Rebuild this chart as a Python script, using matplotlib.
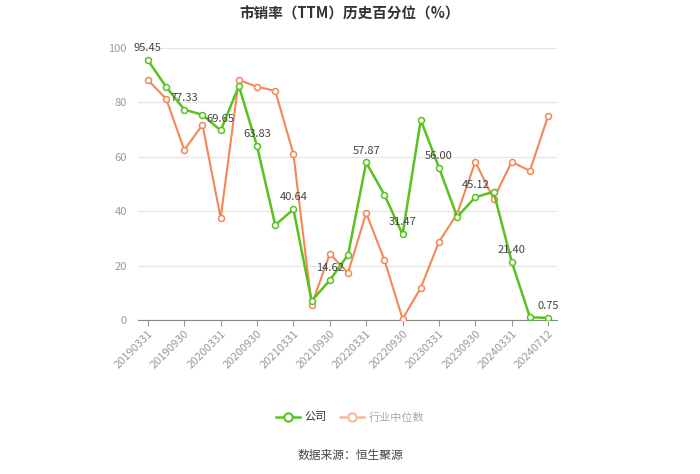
import matplotlib.pyplot as plt
from matplotlib.lines import Line2D

plt.rcParams['font.family'] = ['Noto Sans CJK SC', 'DejaVu Sans']

# Data
dates = ["20190331", "20190630", "20190930", "20191231", "20200331", "20200630",
         "20200930", "20201231", "20210331", "20210630", "20210930", "20211231",
         "20220331", "20220630", "20220930", "20221231", "20230331", "20230630",
         "20230930", "20231231", "20240331", "20240630", "20240712"]
company = [95.45, 85.7, 77.33, 75.4, 69.65, 86.0, 63.83, 34.9, 40.64, 7.0, 14.62, 23.9,
           57.87, 46.0, 31.47, 73.5, 56.00, 37.9, 45.12, 47.1, 21.40, 1.0, 0.75]
industry = [88.2, 81.3, 62.5, 71.7, 37.5, 88.2, 85.7, 84.2, 61.0, 5.5, 24.3, 17.3,
            39.3, 22.1, 0.4, 11.8, 28.7, 39.0, 58.1, 44.5, 58.1, 54.8, 75.0]
tick_labels = ["20190331", "20190930", "20200331", "20200930", "20210331", "20210930",
               "20220331", "20220930", "20230331", "20230930", "20240331", "20240712"]
labeled_idx = list(range(0, len(dates), 2))

GREEN = "#58c21f"
ORANGE = "#f5865a"

fig = plt.figure(figsize=(7, 4.74), dpi=100)
ax = fig.add_axes([0.197, 0.325, 0.599, 0.574])

x = list(range(len(dates)))
ax.plot(x, industry, color=ORANGE, lw=1.5, marker='o', ms=4.3,
        markerfacecolor='white', markeredgecolor=ORANGE, markeredgewidth=1.1, zorder=3)
ax.plot(x, company, color=GREEN, lw=1.8, marker='o', ms=4.3,
        markerfacecolor='white', markeredgecolor=GREEN, markeredgewidth=1.1, zorder=4)

for i in labeled_idx:
    ax.annotate(f"{company[i]:.2f}", (i, company[i]), xytext=(0, 5),
                textcoords='offset points', ha='center', va='bottom',
                fontsize=8, color='#444444', zorder=5)

ax.set_xlim(-0.55, len(dates) - 0.5)
ax.set_ylim(0, 100)
ax.set_yticks([0, 20, 40, 60, 80, 100])
ax.yaxis.grid(True, color='#e6e6e6', lw=0.9)
ax.set_axisbelow(True)
tick_pos = [dates.index(d) for d in tick_labels]
ax.set_xticks(tick_pos)
ax.set_xticklabels(tick_labels, rotation=45, ha='right', rotation_mode='anchor')
ax.tick_params(axis='x', colors='#999999', labelsize=8, length=4, width=0.8, pad=2)
ax.tick_params(axis='y', colors='#999999', labelsize=8, length=0, pad=8)
for side in ['top', 'right', 'left']:
    ax.spines[side].set_visible(False)
ax.spines['bottom'].set_color('#888888')

fig.text(0.5, 0.972, "市销率（TTM）历史百分位（%）", ha='center', va='center',
         fontsize=10.5, fontweight='bold', color='#333333')

handles = [
    Line2D([0], [0], color=GREEN, lw=1.8, marker='o', ms=6, markerfacecolor='white',
           markeredgecolor=GREEN, markeredgewidth=1.5),
    Line2D([0], [0], color='#f7b89e', lw=1.8, marker='o', ms=6, markerfacecolor='white',
           markeredgecolor='#f7b89e', markeredgewidth=1.5),
]
leg = fig.legend(handles, ["公司", "行业中位数"], loc='center', bbox_to_anchor=(0.5, 0.12),
                 ncol=2, frameon=False, fontsize=8, handlelength=2.2, columnspacing=1.2,
                 handletextpad=0.4)
leg.get_texts()[0].set_color('#333333')
leg.get_texts()[1].set_color('#aaaaaa')

fig.text(0.5, 0.04, "数据来源：恒生聚源", ha='center', va='center', fontsize=8.5, color='#444444')

fig.savefig("out.png", dpi=100)
